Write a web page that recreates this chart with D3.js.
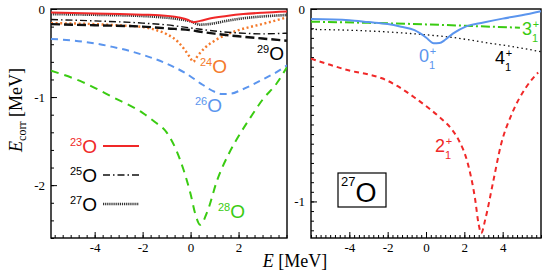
<!DOCTYPE html>
<html>
<head>
<meta charset="utf-8">
<script src="https://cdn.jsdelivr.net/npm/d3@7"></script>
<style>body { margin: 0; background: #fff; }</style>
</head>
<body>
<div id="chart"></div>
<script>
// left panel: correlation energy vs E for the oxygen isotopes
const o23 = [[-5.82,-0.04],[-4,-0.05],[-2,-0.065],[-1.3,-0.07],[-0.5,-0.095],[-0.1,-0.125],[0.1,-0.15],[0.4,-0.135],[0.8,-0.108],[1.5,-0.08],[2.2,-0.058],[3,-0.042],[4.02,-0.028]];
const o27 = [[-5.82,-0.058],[-4,-0.066],[-2,-0.08],[-1.3,-0.092],[-0.5,-0.115],[0,-0.14],[0.4,-0.178],[0.8,-0.17],[1.5,-0.135],[2.2,-0.105],[2.9,-0.087],[4.02,-0.068]];
const o25 = [[-5.82,-0.12],[-4,-0.135],[-2,-0.16],[-1,-0.18],[0,-0.215],[1,-0.25],[2,-0.272],[3,-0.282],[4.02,-0.275]];
const o29 = [[-5.82,-0.172],[-4,-0.185],[-2,-0.2],[-1,-0.22],[0,-0.24],[0.5,-0.262],[1,-0.28],[2,-0.31],[3,-0.335],[4.02,-0.36]];
const o24 = [[-5.82,-0.16],[-4,-0.172],[-3,-0.185],[-2,-0.205],[-1.5,-0.235],[-1,-0.285],[-0.5,-0.38],[-0.2,-0.48],[0,-0.56],[0.1,-0.6],[0.3,-0.53],[0.6,-0.44],[1,-0.36],[1.5,-0.29],[2,-0.24],[3,-0.17],[4.02,-0.095]];
const o26 = [[-5.82,-0.34],[-4.5,-0.37],[-3.25,-0.43],[-2,-0.52],[-1,-0.62],[-0.2,-0.73],[0.5,-0.86],[1,-0.94],[1.3,-0.965],[1.7,-0.96],[2.1,-0.92],[3,-0.8],[3.5,-0.73],[4.02,-0.64]];
const o28 = [[-5.82,-0.7],[-4.5,-0.83],[-3.25,-1.0],[-2,-1.18],[-1.5,-1.28],[-1,-1.4],[-0.6,-1.6],[-0.3,-1.82],[0,-2.1],[0.2,-2.33],[0.4,-2.45],[0.7,-2.3],[1.1,-1.95],[1.6,-1.64],[2.1,-1.4],[2.5,-1.23],[3,-1.03],[3.6,-0.84],[4.02,-0.66]];

// right panel: 27O states
const s0 = [[-6,-0.052],[-4,-0.058],[-3,-0.068],[-2,-0.078],[-1.3,-0.092],[-0.6,-0.11],[-0.3,-0.127],[0,-0.148],[0.4,-0.178],[0.7,-0.177],[1,-0.16],[1.4,-0.128],[2.1,-0.09],[3,-0.07],[4,-0.05],[5,-0.033],[6,-0.012]];
const s3 = [[-6,-0.066],[-3,-0.072],[0,-0.08],[2,-0.087],[4.9,-0.097]];
const s4 = [[-6,-0.106],[-3,-0.114],[0,-0.134],[1.4,-0.148],[3.2,-0.176],[4.5,-0.195],[6,-0.222]];
const s2 = [[-6,-0.258],[-5,-0.29],[-4,-0.32],[-3,-0.34],[-2.3,-0.36],[-1.5,-0.4],[-0.6,-0.46],[0.2,-0.52],[0.8,-0.57],[1.3,-0.62],[1.7,-0.68],[2.2,-0.81],[2.55,-0.98],[2.75,-1.12],[2.88,-1.165],[3.1,-1.09],[3.5,-0.9],[3.9,-0.71],[4.5,-0.54],[5.2,-0.41],[5.85,-0.33]];

const leftXTicks = [-4, -2, 0, 2];
const leftYTicks = [0, -1, -2];
const rightXTicks = [-4, -2, 0, 2, 4];
const rightYTicks = [0, -1];

const width = 544, height = 279;
const plotTop = 9, plotBottom = 238;
const serif = "'Liberation Serif', 'Times New Roman', serif";
const sans = "'Liberation Sans', Arial, sans-serif";

const svg = d3.select("#chart").append("svg")
	.attr("width", width)
	.attr("height", height);

function steps(dom, step) {
	const a = Math.ceil(dom[0] / step - 1e-6), b = Math.floor(dom[1] / step + 1e-6);
	return d3.range(a, b + 1).map(i => i * step);
}

function panel(id, left, right, xDom, yDom, xTicks, yTicks, xStep, yStep) {
	const x = d3.scaleLinear().domain(xDom).range([left, right]);
	const y = d3.scaleLinear().domain(yDom).range([plotBottom, plotTop]);
	const g = svg.append("g");

	g.append("clipPath").attr("id", id)
		.append("rect")
		.attr("x", left).attr("y", plotTop)
		.attr("width", right - left).attr("height", plotBottom - plotTop);

	const fmt = d => String(d);
	// minor ticks
	g.append("g")
		.attr("transform", `translate(0,${plotBottom})`)
		.call(d3.axisBottom(x).tickValues(steps(xDom, xStep)).tickSize(-3).tickFormat(""))
		.call(a => a.select(".domain").remove());
	g.append("g")
		.attr("transform", `translate(${left},0)`)
		.call(d3.axisLeft(y).tickValues(steps(yDom, yStep)).tickSize(-3).tickFormat(""))
		.call(a => a.select(".domain").remove());
	// major ticks
	g.append("g")
		.attr("transform", `translate(0,${plotBottom})`)
		.call(d3.axisBottom(x).tickValues(xTicks).tickSize(-6).tickPadding(5).tickFormat(fmt))
		.call(a => a.select(".domain").remove())
		.attr("font-family", serif).attr("font-size", 13);
	g.append("g")
		.attr("transform", `translate(${left},0)`)
		.call(d3.axisLeft(y).tickValues(yTicks).tickSize(-6).tickPadding(6).tickFormat(fmt))
		.call(a => a.select(".domain").remove())
		.attr("font-family", serif).attr("font-size", 13);

	g.selectAll(".tick line").attr("stroke", "#000").attr("stroke-width", 1);

	g.append("rect")
		.attr("x", left).attr("y", plotTop)
		.attr("width", right - left).attr("height", plotBottom - plotTop)
		.attr("fill", "none").attr("stroke", "#000").attr("stroke-width", 1.4);

	const curves = g.append("g").attr("clip-path", `url(#${id})`);
	const line = d3.line().x(d => x(d[0])).y(d => y(d[1])).curve(d3.curveMonotoneX);
	function curve(data, color, w, dash) {
		return curves.append("path")
			.datum(data)
			.attr("d", line)
			.attr("fill", "none")
			.attr("stroke", color)
			.attr("stroke-width", w)
			.attr("stroke-dasharray", dash);
	}
	return { x, y, g, curve };
}

const red = "#f02828", orange = "#f47a2c", blue = "#5b95ee", green = "#3acb12";

// left panel
const L = panel("clipL", 51, 287, [-5.82, 4.02], [-2.6, 0], leftXTicks, leftYTicks, 1 / 3, 0.2);
L.curve(o28, green, 2, "8,6");
L.curve(o26, blue, 2, "7,5");
L.curve(o24, orange, 2.4, "2,2.6");
L.curve(o29, "#111", 2.4, "9,4");
L.curve(o25, "#111", 1.4, "7,3,1.5,3");
L.curve(o27, "#333", 2.6, "1.2,0.9");
L.curve(o23, red, 2, null);

function iso(x, y, mass, color, big, small, shift) {
	const t = svg.append("text")
		.attr("x", x).attr("y", y)
		.attr("font-family", sans)
		.attr("fill", color);
	t.append("tspan").attr("font-size", small).attr("dy", -shift).text(mass);
	t.append("tspan").attr("font-size", big).attr("dy", shift).text("O");
}
iso(257, 60, "29", "#000", 19, 11, 7);
iso(200, 73, "24", orange, 19, 11, 7);
iso(195, 112, "26", blue, 19, 11, 7);
iso(218, 218, "28", green, 19, 11, 7);

// legend
const legend = [
	{ mass: "23", color: red, w: 2, dash: null, y: 146 },
	{ mass: "25", color: "#111", w: 1.4, dash: "7,3,1.5,3", y: 175 },
	{ mass: "27", color: "#333", w: 2.6, dash: "1.2,0.9", y: 204 }
];
for (const d of legend) {
	iso(70, d.y + 7, d.mass, d.mass === "23" ? red : "#000", 19, 11, 7);
	svg.append("line")
		.attr("x1", 103).attr("x2", 139)
		.attr("y1", d.y).attr("y2", d.y)
		.attr("stroke", d.color)
		.attr("stroke-width", d.w)
		.attr("stroke-dasharray", d.dash);
}

// right panel
const R = panel("clipR", 311, 541, [-6, 6], [-1.19, 0], rightXTicks, rightYTicks, 0.25, 0.05);
R.curve(s2, red, 2, "5,4");
R.curve(s4, "#111", 1.3, "1.5,3");
R.curve(s3, green, 2, "9,3,2,3");
R.curve(s0, blue, 2, null);

function state(x, y, j, color) {
	const t = svg.append("g").attr("font-family", sans).attr("fill", color);
	t.append("text").attr("x", x).attr("y", y).attr("font-size", 18).text(j);
	t.append("text").attr("x", x + 14).attr("y", y - 7).attr("font-size", 11).attr("text-anchor", "middle").text("+");
	t.append("text").attr("x", x + 13).attr("y", y + 7).attr("font-size", 11).attr("text-anchor", "middle").text("1");
}
state(419, 62, "0", blue);
state(495, 64, "4", "#000");
state(522, 35, "3", green);
state(435, 152, "2", red);

svg.append("rect")
	.attr("x", 338).attr("y", 173)
	.attr("width", 48).attr("height", 34)
	.attr("fill", "none").attr("stroke", "#000").attr("stroke-width", 1.2);
iso(341, 202, "27", "#000", 27, 13, 16);

// axis titles
const yt = svg.append("text")
	.attr("transform", "translate(22,110) rotate(-90)")
	.attr("text-anchor", "middle")
	.attr("font-family", serif)
	.attr("font-size", 18);
yt.append("tspan").attr("font-style", "italic").text("E");
yt.append("tspan").attr("font-size", 12).attr("dy", 4).text("corr");
yt.append("tspan").attr("dy", -4).text(" [MeV]");

const xt = svg.append("text")
	.attr("x", 295).attr("y", 267)
	.attr("text-anchor", "middle")
	.attr("font-family", serif)
	.attr("font-size", 18);
xt.append("tspan").attr("font-style", "italic").text("E");
xt.append("tspan").text(" [MeV]");
</script>
</body>
</html>
